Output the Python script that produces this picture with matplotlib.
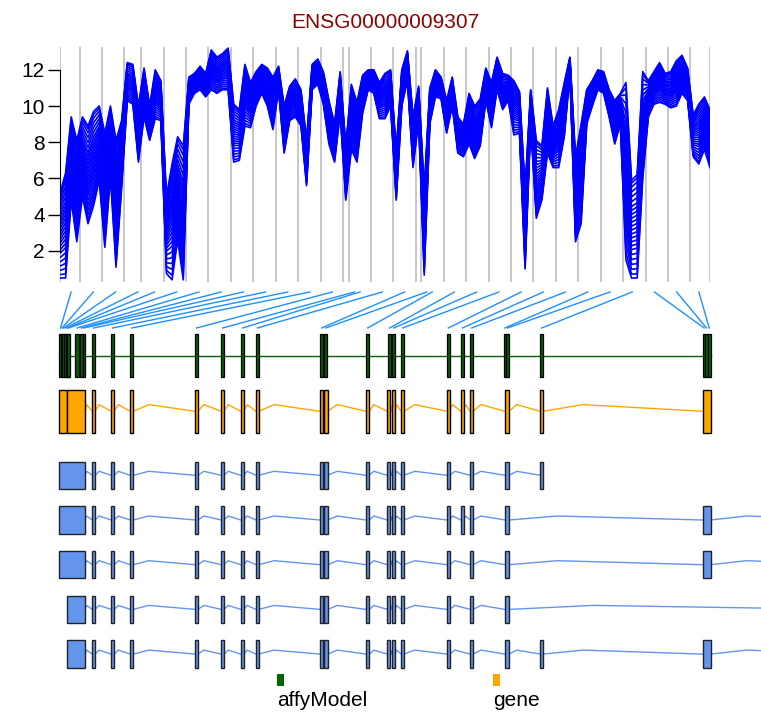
import matplotlib
matplotlib.use("Agg")
import matplotlib.pyplot as plt
from matplotlib.patches import Rectangle
from matplotlib.lines import Line2D
import numpy as np

plt.rcParams['font.family'] = ['Liberation Sans', 'DejaVu Sans']

W, H = 761, 713

title = "ENSG00000009307"

# probes per probeset, in genomic order
probeset_sizes = [4, 4, 4, 3, 4, 4, 4, 4, 4, 4, 4, 4, 4, 1, 4, 4, 4, 1,
                  4, 4, 4, 4, 4, 4, 4, 4, 4, 4, 4, 4, 4]

# lowest and highest log2 intensity over the samples, one value per probe
probe_low = [0.5, 0.5, 4.8, 2.5, 5.0, 3.5, 4.5, 5.9, 2.2, 6.1, 1.1, 5.5,
             10.3, 10.1, 6.9, 9.4, 8.1, 9.3, 9.2, 0.75, 0.4, 2.6, 0.4,
             10.1, 10.7, 10.9, 10.5, 10.9, 10.7, 10.9, 10.9, 6.9, 7.0, 8.9,
             8.8, 10.0, 10.7, 10.0, 8.7, 10.9, 7.4, 9.2, 9.4, 8.9, 5.6, 10.9,
             11.2, 10.1, 7.9, 6.9, 9.6, 4.8, 7.6, 6.9, 9.6, 10.9, 10.7, 9.3,
             9.3, 10.0, 4.8, 10.0, 11.4, 6.6, 9.2, 0.66, 9.0, 10.5, 10.4, 8.5,
             10.0, 7.4, 7.2, 7.9, 7.1, 7.8, 10.3, 8.8, 10.9, 9.8, 10.3, 8.4,
             8.5, 1.0, 9.0, 3.8, 4.8, 7.4, 6.6, 6.6, 8.3, 11.8, 2.5, 3.5,
             9.0, 10.0, 10.9, 10.7, 9.4, 7.9, 9.0, 1.5, 0.5, 0.5, 6.0, 9.4,
             10.1, 10.2, 10.1, 9.9, 10.0, 10.7, 10.3, 7.2, 6.8, 7.6, 6.6]
probe_high = [5.2, 6.3, 9.4, 8.1, 9.4, 8.9, 9.7, 10.0, 8.5, 10.0, 8.1, 9.2,
              12.4, 12.3, 10.0, 12.1, 10.0, 12.0, 11.4, 5.0, 6.8, 8.3, 7.8,
              11.6, 11.8, 12.2, 11.8, 13.1, 12.7, 12.9, 13.2, 10.1, 9.8, 12.3,
              11.3, 11.9, 12.3, 12.1, 11.6, 12.2, 10.0, 11.1, 11.5, 10.9, 8.1,
              12.3, 12.6, 11.9, 10.3, 9.0, 11.9, 7.8, 11.2, 10.2, 11.7, 12.0,
              12.0, 11.3, 11.8, 12.0, 7.5, 12.0, 13.05, 9.4, 11.1, 5.4, 11.0,
              12.0, 11.6, 10.3, 11.6, 9.4, 9.0, 10.7, 10.0, 10.4, 12.1, 11.3,
              12.7, 11.8, 11.7, 11.4, 10.8, 5.4, 10.9, 8.1, 7.8, 11.0, 8.9,
              9.8, 11.3, 12.7, 7.2, 9.0, 10.9, 11.4, 12.0, 11.9, 10.9, 10.3,
              10.7, 11.3, 5.9, 6.2, 11.9, 11.4, 11.9, 12.4, 11.8, 11.9, 12.5,
              12.8, 12.1, 9.5, 10.1, 10.5, 9.8]
# where each sample sits between the low and high profile
sample_weights = [0.0, 0.04, 0.09, 0.14, 0.19, 0.24, 0.29, 0.33, 0.37, 0.41,
                  0.45, 0.49, 0.53, 0.57, 0.61, 0.65, 0.69, 0.73, 0.78, 0.83,
                  0.88, 0.93, 0.97, 1.0]

# affymetrix exon probeset regions (bp from gene start)
affy_exons = [(0, 127), (95, 222), (190, 317), (285, 444), (412, 571),
              (507, 634), (983, 1255), (1300, 1471), (1471, 1636),
              (2080, 2251), (3284, 3455), (4489, 4679), (8610, 8768),
              (10258, 10429), (11507, 11697), (12458, 12629), (16535, 16706),
              (16788, 16979), (19432, 19641), (20846, 21005), (21100, 21271),
              (21670, 21842), (24568, 24739), (25455, 25626), (26045, 26216),
              (28162, 28308), (28308, 28498), (30483, 30654), (40779, 40956),
              (40956, 41083), (41115, 41273)]

gene_exons = [(0, 495), (495, 1617), (2080, 2251), (3284, 3474), (4489, 4679),
              (8610, 8781), (10258, 10429), (11488, 11697), (12458, 12629),
              (16516, 16725), (16788, 17004), (19432, 19641), (20783, 20973),
              (21062, 21271), (21670, 21842), (24568, 24739), (25455, 25626),
              (26045, 26216), (28245, 28498), (30483, 30654), (40779, 41273)]

shared_exons = [(2080, 2251), (3284, 3474), (4489, 4679), (8610, 8781),
                (10258, 10429), (11488, 11697), (12458, 12629), (16516, 16725),
                (16788, 17004), (19432, 19641), (20783, 20973), (21062, 21271),
                (21670, 21842), (24568, 24739)]
transcripts = [
    [(0, 1617)] + shared_exons + [(26045, 26216), (28245, 28498), (30483, 30654)],
    [(0, 1617)] + shared_exons + [(25455, 25626), (26045, 26216), (28245, 28498),
                                  (40779, 41273), (50430, 51380)],
    [(0, 1617)] + shared_exons + [(26045, 26216), (28245, 28498),
                                  (40779, 41273), (50430, 51380)],
    [(456, 1617)] + shared_exons + [(26045, 26216), (28245, 28498), (49800, 50700)],
    [(456, 1617)] + shared_exons + [(26045, 26216), (28245, 28498), (30483, 30654),
                                    (40779, 41273), (50430, 51380)],
]

legend_labels = ["affyModel", "gene"]
legend_colors = ["#006400", "#FFA500"]


def px_rect(left, top, width, height):
    return [left / W, 1 - (top + height) / H, width / W, height / H]


def draw_track(ax, exons, yc, height, fill, edge, line_color, bump):
    exons = sorted(exons)
    for (s0, e0), (s1, e1) in zip(exons[:-1], exons[1:]):
        if s1 > e0:
            peak = e0 + 0.25 * (s1 - e0)
            ax.plot([e0, peak, s1], [yc, yc - bump, yc], color=line_color,
                    lw=1.0, zorder=2, solid_joinstyle='miter')
    for s, e in exons:
        ax.add_patch(Rectangle((s, yc - height / 2), e - s, height,
                               facecolor=fill, edgecolor=edge, lw=1.0, zorder=3))


fig = plt.figure(figsize=(W / 100, H / 100), dpi=100)
fig.text(385 / W, 1 - 28.5 / H, title, color="#8B0000", fontsize=15,
         ha="center", va="baseline")

# probe intensity panel
n_probes = len(probe_low)
probe_x = np.arange(n_probes)
low = np.array(probe_low)
high = np.array(probe_high)
starts = np.concatenate([[0], np.cumsum(probeset_sizes)[:-1]])

ax_p = fig.add_axes(px_rect(60, 47, 650, 235))
ax_p.set_xlim(0, n_probes - 1)
ax_p.set_ylim(0.28, 13.26)
bounds = [0] + [s - 0.5 for s in starts[1:]] + [n_probes - 1]
for b in bounds:
    ax_p.axvline(b, color="#BEBEBE", lw=1.2, zorder=1)
for w in sample_weights:
    ax_p.plot(probe_x, low + w * (high - low), color="#0000FF", lw=1.2,
              zorder=2)
for side in ["top", "right", "bottom"]:
    ax_p.spines[side].set_visible(False)
ax_p.spines["left"].set_bounds(2, 12)
ax_p.set_yticks([2, 4, 6, 8, 10, 12])
ax_p.set_xticks([])
ax_p.tick_params(axis="y", length=9, width=1, pad=2, labelsize=15)
ax_p.patch.set_visible(False)

# slot axis for the top end of the connector lines
ax_s = fig.add_axes(px_rect(60, 292, 650, 36))
ax_s.set_xlim(0, n_probes)
ax_s.set_ylim(0, 1)
ax_s.axis("off")

# gene model tracks, x in bp, y in pixel rows
gene_len = max(e for s, e in gene_exons)
gene_px = (59.5, 710.5)
bpp = gene_len / (gene_px[1] - gene_px[0])
ax_g = fig.add_axes(px_rect(0, 290, W, 423))
ax_g.set_xlim(-gene_px[0] * bpp, (W - gene_px[0]) * bpp)
ax_g.set_ylim(713, 290)
ax_g.axis("off")

# affyModel track
ax_g.plot([0, gene_len], [355.7, 355.7], color="#006400", lw=1.0, zorder=2)
for s, e in affy_exons:
    ax_g.add_patch(Rectangle((s, 334), e - s, 43, facecolor="#006400",
                             edgecolor="black", lw=0.9, zorder=3))

# gene track
draw_track(ax_g, gene_exons, 411.3, 42.7, "#FFA500", "black", "#FFA500", 6.7)

# transcripts
for k, tx in enumerate(transcripts):
    draw_track(ax_g, tx, 475.3 + 44.7 * k, 27.3, "#6495ED", "#222222",
               "#6495ED", 4.0)

# connector lines probeset -> affy exon
to_fig = fig.transFigure.inverted()
for first, (s, e) in zip(starts, affy_exons):
    top = to_fig.transform(ax_s.transData.transform((first + 2, 1)))
    bot = to_fig.transform(ax_g.transData.transform(((s + e) / 2, 328)))
    fig.add_artist(Line2D([top[0], bot[0]], [top[1], bot[1]],
                          transform=fig.transFigure, color="#1E90FF", lw=1.0))

# legend
ax_l = fig.add_axes([0, 0, 1, 1])
ax_l.set_xlim(0, W)
ax_l.set_ylim(H, 0)
ax_l.axis("off")
for x0, lab, col in zip([276.7, 493.3], legend_labels, legend_colors):
    ax_l.add_patch(Rectangle((x0, 674), 7, 11.7, facecolor=col, edgecolor="none"))
    ax_l.text(x0, 706.5, lab, fontsize=15, va="baseline", ha="left", color="black")

fig.savefig("out.png", dpi=100)
